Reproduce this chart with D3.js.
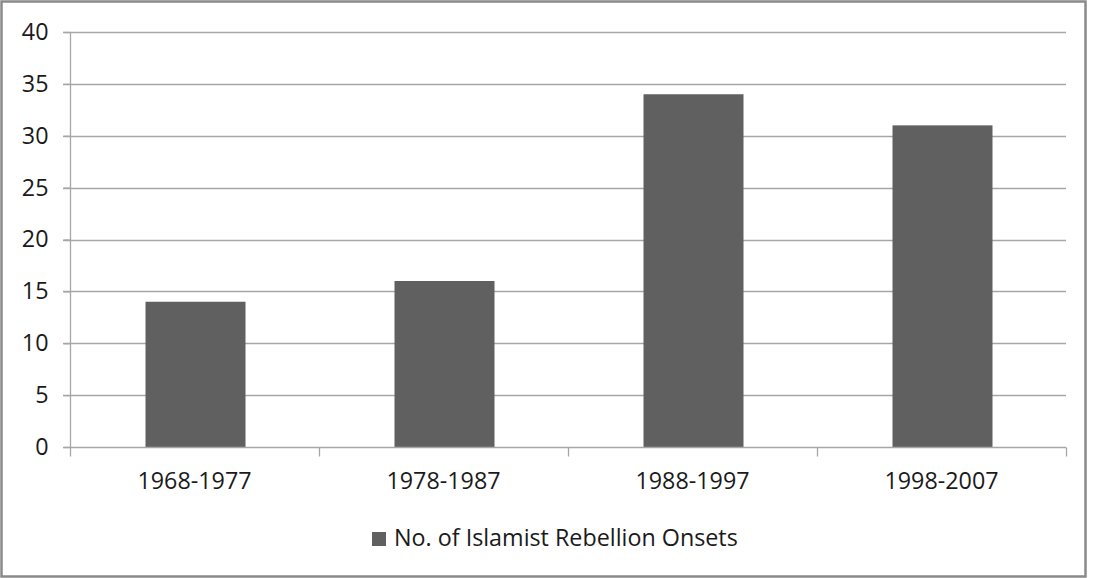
<!DOCTYPE html>
<html>
<head>
<meta charset="utf-8">
<script src="https://cdn.jsdelivr.net/npm/d3@7"></script>
<style>
  html, body { margin: 0; padding: 0; background: #fff; }
  svg { display: block; }
  text { font-family: "Open Sans", sans-serif; fill: #1a1a1a; }
</style>
</head>
<body>
<svg id="chart" width="1095" height="578"></svg>
<script>
const categories = ["1968-1977", "1978-1987", "1988-1997", "1998-2007"];
const values = [14, 16, 34, 31];
const yTicks = [0, 5, 10, 15, 20, 25, 30, 35, 40];
const seriesName = "No. of Islamist Rebellion Onsets";

const plotL = 70, plotR = 1066, plotT = 32, plotB = 447;
const fs = 23.3;
const svg = d3.select("#chart");

// outer border
svg.append("rect").attr("x", 1.5).attr("y", 1.5).attr("width", 1084).attr("height", 575)
  .attr("fill", "#fff").attr("stroke", "#8a8a8a").attr("stroke-width", 2.5);

const x = d3.scaleBand().domain(categories).range([plotL, plotR]).paddingInner(0).paddingOuter(0);
const y = d3.scaleLinear().domain([0, 40]).range([plotB, plotT]);

// gridlines
svg.append("g").selectAll("line").data(yTicks.filter(d => d > 0)).join("line")
  .attr("x1", plotL - 7).attr("x2", plotR)
  .attr("y1", d => Math.round(y(d)) + 0.5).attr("y2", d => Math.round(y(d)) + 0.5)
  .attr("stroke", "#a6a6a6").attr("stroke-width", 1.3);

// bars
const barW = 100;
svg.append("g").selectAll("rect").data(values).join("rect")
  .attr("x", (d, i) => x(categories[i]) + x.bandwidth() / 2 - barW / 2 + 1)
  .attr("width", barW)
  .attr("y", d => y(d))
  .attr("height", d => y(0) - y(d))
  .attr("fill", "#606060");

// y axis
const yAxis = d3.axisLeft(y).tickValues(yTicks).tickSize(7).tickPadding(15);
const gy = svg.append("g").attr("transform", `translate(${plotL + 0.5},0)`).call(yAxis);
gy.select(".domain").attr("stroke", "#a6a6a6").attr("stroke-width", 1.3).attr("d", `M0,${plotT}V${plotB}`);
gy.selectAll(".tick line").attr("stroke", "#a6a6a6").attr("stroke-width", 1.3);
gy.selectAll(".tick text").attr("font-size", fs).attr("font-family", "Open Sans, sans-serif").attr("fill", "#1a1a1a");

// x axis
const xAxis = d3.axisBottom(x).tickSize(0).tickPadding(25);
const gx = svg.append("g").attr("transform", `translate(0,${Math.round(plotB) + 0.5})`).call(xAxis);
gx.select(".domain").attr("stroke", "#a6a6a6").attr("stroke-width", 1.3).attr("d", `M${plotL - 7},0H${plotR}`);
gx.selectAll(".tick text").attr("font-size", fs).attr("font-family", "Open Sans, sans-serif").attr("fill", "#1a1a1a");
// boundary tick marks
const bounds = categories.map(c => x(c)).concat([plotR]);
gx.append("g").selectAll("line").data(bounds).join("line")
  .attr("x1", d => Math.round(d) + 0.5).attr("x2", d => Math.round(d) + 0.5)
  .attr("y1", 0).attr("y2", 9)
  .attr("stroke", "#a6a6a6").attr("stroke-width", 1.3);

// legend
const lg = svg.append("g");
lg.append("rect").attr("x", 372).attr("y", 532).attr("width", 14).attr("height", 14).attr("fill", "#606060");
lg.append("text").attr("x", 394).attr("y", 546).attr("font-size", fs).text(seriesName);
</script>
</body>
</html>
